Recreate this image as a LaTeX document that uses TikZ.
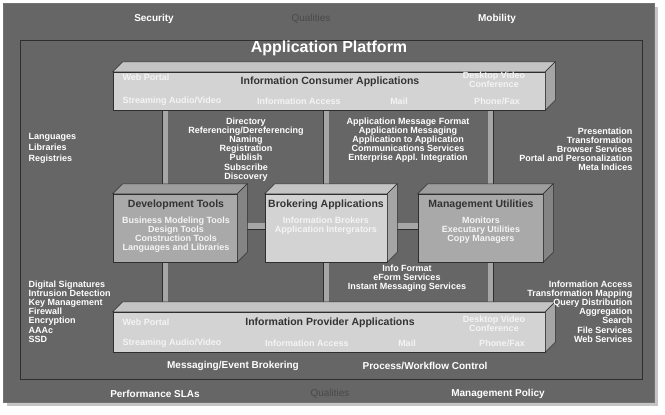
\documentclass[tikz,border=0pt]{standalone}
\usepackage{fontspec}
\setmainfont{Liberation Sans}
\usetikzlibrary{calc,shadows}
\definecolor{frame}{HTML}{666666}
\definecolor{edge}{HTML}{2E2E2E}
\definecolor{face}{HTML}{D3D3D3}
\definecolor{facemid}{HTML}{A9A9A9}
\definecolor{dimtext}{HTML}{4A4A4A}
\definecolor{softwhite}{HTML}{F4F4F4}
\pgfdeclarelayer{bg}
\pgfdeclarelayer{posts}
\pgfsetlayers{bg,posts,main}

\begin{document}
\begin{tikzpicture}[x=1pt,y=-1pt,
  front/.style={draw=edge,line width=0.5pt,inner sep=0pt},
  post/.style={draw=edge,line width=0.5pt,double=gray!70,double distance=5pt},
  title/.style={font=\bfseries\fontsize{10.5}{12}\selectfont,text=black!80},
  item/.style={font=\bfseries\fontsize{9}{9.2}\selectfont,text=softwhite,align=center},
  lbl/.style={font=\bfseries\fontsize{9}{9.2}\selectfont,text=white},
  qual/.style={font=\bfseries\fontsize{10}{12}\selectfont,text=white},
]
  \useasboundingbox (0,0) rectangle (665,415);

  % Frame
  \begin{pgfonlayer}{bg}
    \fill[white] (0,0) rectangle (665,415);
    \filldraw[fill=frame,draw=black!55,drop shadow={shadow xshift=4pt,shadow yshift=-4pt,opacity=0.45}] (3,3) rectangle (654,402);
    \draw[edge,line width=0.7pt] (20,40) rectangle (642,379);
  \end{pgfonlayer}

  % Qualities
  \node[qual] (sec) at (154,19) {Security};
  \node[qual,font=\fontsize{10}{12}\selectfont,text=dimtext] (qtop) at (311,19) {Qualities};
  \node[qual] (mob) at (497,19) {Mobility};
  \node[qual] (perf) at (155,394) {Performance SLAs};
  \node[qual,font=\fontsize{10}{12}\selectfont,text=dimtext] (qbot) at (330,394) {Qualities};
  \node[qual] (mpol) at (498,394) {Management Policy};

  \node[font=\bfseries\fontsize{16}{18}\selectfont,text=white] (plat) at (329,48) {Application Platform};

  % Boxes
  \node[front,fill=face,minimum width=432,minimum height=38] (cons) at (329,91) {};
  \node[front,fill=facemid,minimum width=124,minimum height=68] (dev) at (175,228) {};
  \node[front,fill=face,minimum width=122,minimum height=68] (broker) at (326,228) {};
  \node[front,fill=facemid,minimum width=125,minimum height=68] (mgmt) at (480.5,228) {};
  \node[front,fill=face,minimum width=432,minimum height=40] (prov) at (329,332) {};

  \foreach \n/\c in {cons/face,dev/facemid,broker/face,mgmt/facemid,prov/face} {
    \filldraw[draw=edge,line width=0.5pt,fill=\c!93!black] (\n.north west) -- ++(10,-10)
      -- ([shift={(10,-10)}]\n.north east) -- (\n.north east) -- cycle;
    \filldraw[draw=edge,line width=0.5pt,fill=\c!78!black] (\n.north east) -- ++(10,-10)
      -- ([shift={(10,-10)}]\n.south east) -- (\n.south east) -- cycle;
  }

  % Posts
  \begin{pgfonlayer}{posts}
    \draw[post] ([xshift=-10pt]dev.north |- cons.south) -- ([xshift=-10pt]dev.north);
    \draw[post] (broker.north |- cons.south) -- (broker.north);
    \draw[post] ([xshift=10pt]mgmt.north |- cons.south) -- ([xshift=10pt]mgmt.north);
    \draw[post] ([xshift=-10pt]dev.south) -- ([xshift=-10pt]dev.south |- prov.north);
    \draw[post] (broker.south) -- (broker.south |- prov.north);
    \draw[post] ([xshift=10pt]mgmt.south) -- ([xshift=10pt]mgmt.south |- prov.north);
    \draw[post,double distance=6pt] ([yshift=2pt]dev.east) -- ([yshift=2pt]broker.west);
    \draw[post,double distance=6pt] ([yshift=2pt]broker.east) -- ([yshift=2pt]mgmt.west);
  \end{pgfonlayer}

  % Consumer box
  \node[item,anchor=west] (cwp) at (119,77) {Web Portal};
  \node[title] (ctitle) at (330,82) {Information Consumer Applications};
  \node[item,font=\bfseries\fontsize{9}{9}\selectfont] (cdv) at (494,80) {Desktop Video\\Conference};
  \node[item,anchor=west] (csav) at (119,101) {Streaming Audio/Video};
  \node[item] (cia) at (299,101) {Information Access};
  \node[item] (cmail) at (399,101) {Mail};
  \node[item] (cpf) at (497,101) {Phone/Fax};

  % Middle boxes
  \node[title] (dtitle) at (176,205) {Development Tools};
  \node[item,anchor=north] (ditems) at (176,213) {Business Modeling Tools\\Design Tools\\Construction Tools\\Languages and Libraries};
  \node[title] (btitle) at (326,205) {Brokering Applications};
  \node[item,anchor=north] (bitems) at (326,213) {Information Brokers\\Application Intergrators};
  \node[title] (mtitle) at (481,205) {Management Utilities};
  \node[item,anchor=north] (mitems) at (481,213) {Monitors\\Executary Utilities\\Copy Managers};

  % Provider box
  \node[item,anchor=west] (pwp) at (119,322) {Web Portal};
  \node[title] (ptitle) at (330,323) {Information Provider Applications};
  \node[item,font=\bfseries\fontsize{9}{9}\selectfont] (pdv) at (494,323.5) {Desktop Video\\Conference};
  \node[item,anchor=west] (psav) at (119,343) {Streaming Audio/Video};
  \node[item] (pia) at (307,343) {Information Access};
  \node[item] (pmail) at (407,343) {Mail};
  \node[item] (ppf) at (502,343) {Phone/Fax};

  % Side labels
  \node[lbl,align=left,anchor=north west,font=\bfseries\fontsize{9}{11}\selectfont] (lang) at (25,130) {Languages\\Libraries\\Registries};
  \node[lbl,align=center,anchor=north] (dir) at (246,114) {Directory\\Referencing/Dereferencing\\Naming\\Registration\\Publish\\Subscribe\\Discovery};
  \node[lbl,align=center,anchor=north] (amf) at (408,114) {Application Message Format\\Application Messaging\\Application to Application\\Communications Services\\Enterprise Appl. Integration};
  \node[lbl,align=right,anchor=north east] (pres) at (636,124) {Presentation\\Transformation\\Browser Services\\Portal and Personalization\\Meta Indices};
  \node[lbl,align=left,anchor=north west] (dsig) at (25,277) {Digital Signatures\\Intrusion Detection\\Key Management\\Firewall\\Encryption\\AAAc\\SSD};
  \node[lbl,align=center,anchor=north] (ifmt) at (407,261) {Info Format\\eForm Services\\Instant Messaging Services};
  \node[lbl,align=right,anchor=north east] (iacc) at (636,277) {Information Access\\Transformation Mapping\\Query Distribution\\Aggregation\\Search\\File Services\\Web Services};

  % Bottom of platform
  \node[qual] (msg) at (233,366) {Messaging/Event Brokering};
  \node[qual] (proc) at (425,366) {Process/Workflow Control};
\end{tikzpicture}
\end{document}
